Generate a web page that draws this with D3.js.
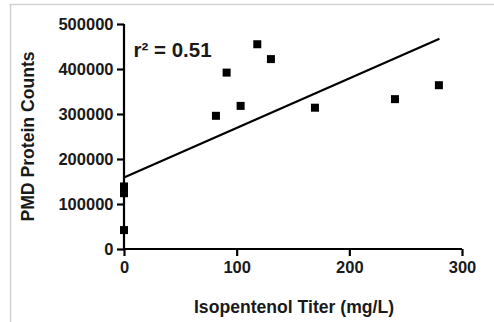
<!DOCTYPE html>
<html><head><meta charset="utf-8">
<script src="https://cdn.jsdelivr.net/npm/d3@7"></script>
<style>html,body{margin:0;padding:0;background:#fff;}svg{display:block;}</style>
</head><body>
<script>
const titerX = [0, 0, 0, 0, 81.6, 91.1, 103.5, 118.3, 130.4, 169.5, 240.5, 279.5];
const proteinY = [42000, 124000, 131000, 139000, 296000, 392000, 318000, 455000, 422000, 314000, 333000, 364000];
const fitX = [0, 280];
const fitY = [159000, 467000];
const xTicks = [0, 100, 200, 300];
const yTicks = [0, 100000, 200000, 300000, 400000, 500000];
const rText = "r² = 0.51";

const W = 494, H = 322;
const svg = d3.select("body").append("svg").attr("width", W).attr("height", H);
svg.append("path").attr("d", `M10.5,${H} V4.5 H${W}`).attr("fill","none").attr("stroke","#d2d2d2").attr("stroke-width",1.5);

const x = d3.scaleLinear().domain([0,300]).range([124,462]);
const y = d3.scaleLinear().domain([0,500000]).range([249,24]);
const font = "Liberation Sans, Arial, Helvetica, sans-serif";

const gx = svg.append("g").attr("transform","translate(0,249)")
  .call(d3.axisBottom(x).tickValues(xTicks).tickSize(7).tickSizeOuter(0).tickFormat(d3.format("d")));
const gy = svg.append("g").attr("transform","translate(124,0)")
  .call(d3.axisLeft(y).tickValues(yTicks).tickSize(7).tickSizeOuter(0).tickFormat(d3.format("d")));
[gx,gy].forEach(g=>{
  g.select(".domain").attr("stroke","#000").attr("stroke-width",2.2);
  g.selectAll(".tick line").attr("stroke","#000").attr("stroke-width",2.2);
  g.selectAll(".tick text").attr("fill","#1a1a1a").attr("font-family",font).attr("font-weight","bold").attr("font-size",16.5);
});
gx.selectAll(".tick text").attr("dy","0.72em").attr("y",12.5);
gy.selectAll(".tick text").attr("x",-10.5).attr("dy","0.36em");
gy.select(".domain").attr("d","M0,24V249");
gx.select(".domain").attr("d","M124,0H462");

svg.append("line").attr("x1",x(fitX[0])).attr("y1",y(fitY[0])).attr("x2",x(fitX[1])).attr("y2",y(fitY[1]))
  .attr("stroke","#000").attr("stroke-width",2.2);

svg.append("g").selectAll("rect").data(titerX.map((d,i)=>[d,proteinY[i]])).join("rect")
  .attr("x",d=>x(d[0])-4).attr("y",d=>y(d[1])-4).attr("width",8).attr("height",8).attr("fill","#000");

svg.append("text").attr("x",133.5).attr("y",56.7).attr("font-family",font).attr("font-weight","bold").attr("font-size",20.5).attr("fill","#1a1a1a").text(rText);

svg.append("text").attr("transform","translate(34.3,136.5) rotate(-90)").attr("text-anchor","middle")
  .attr("font-family",font).attr("font-weight","bold").attr("font-size",17.6).attr("fill","#1a1a1a").text("PMD Protein Counts");
svg.append("text").attr("x",294).attr("y",312.7).attr("text-anchor","middle")
  .attr("font-family",font).attr("font-weight","bold").attr("font-size",17.6).attr("fill","#1a1a1a").text("Isopentenol Titer (mg/L)");
</script>
</body></html>
